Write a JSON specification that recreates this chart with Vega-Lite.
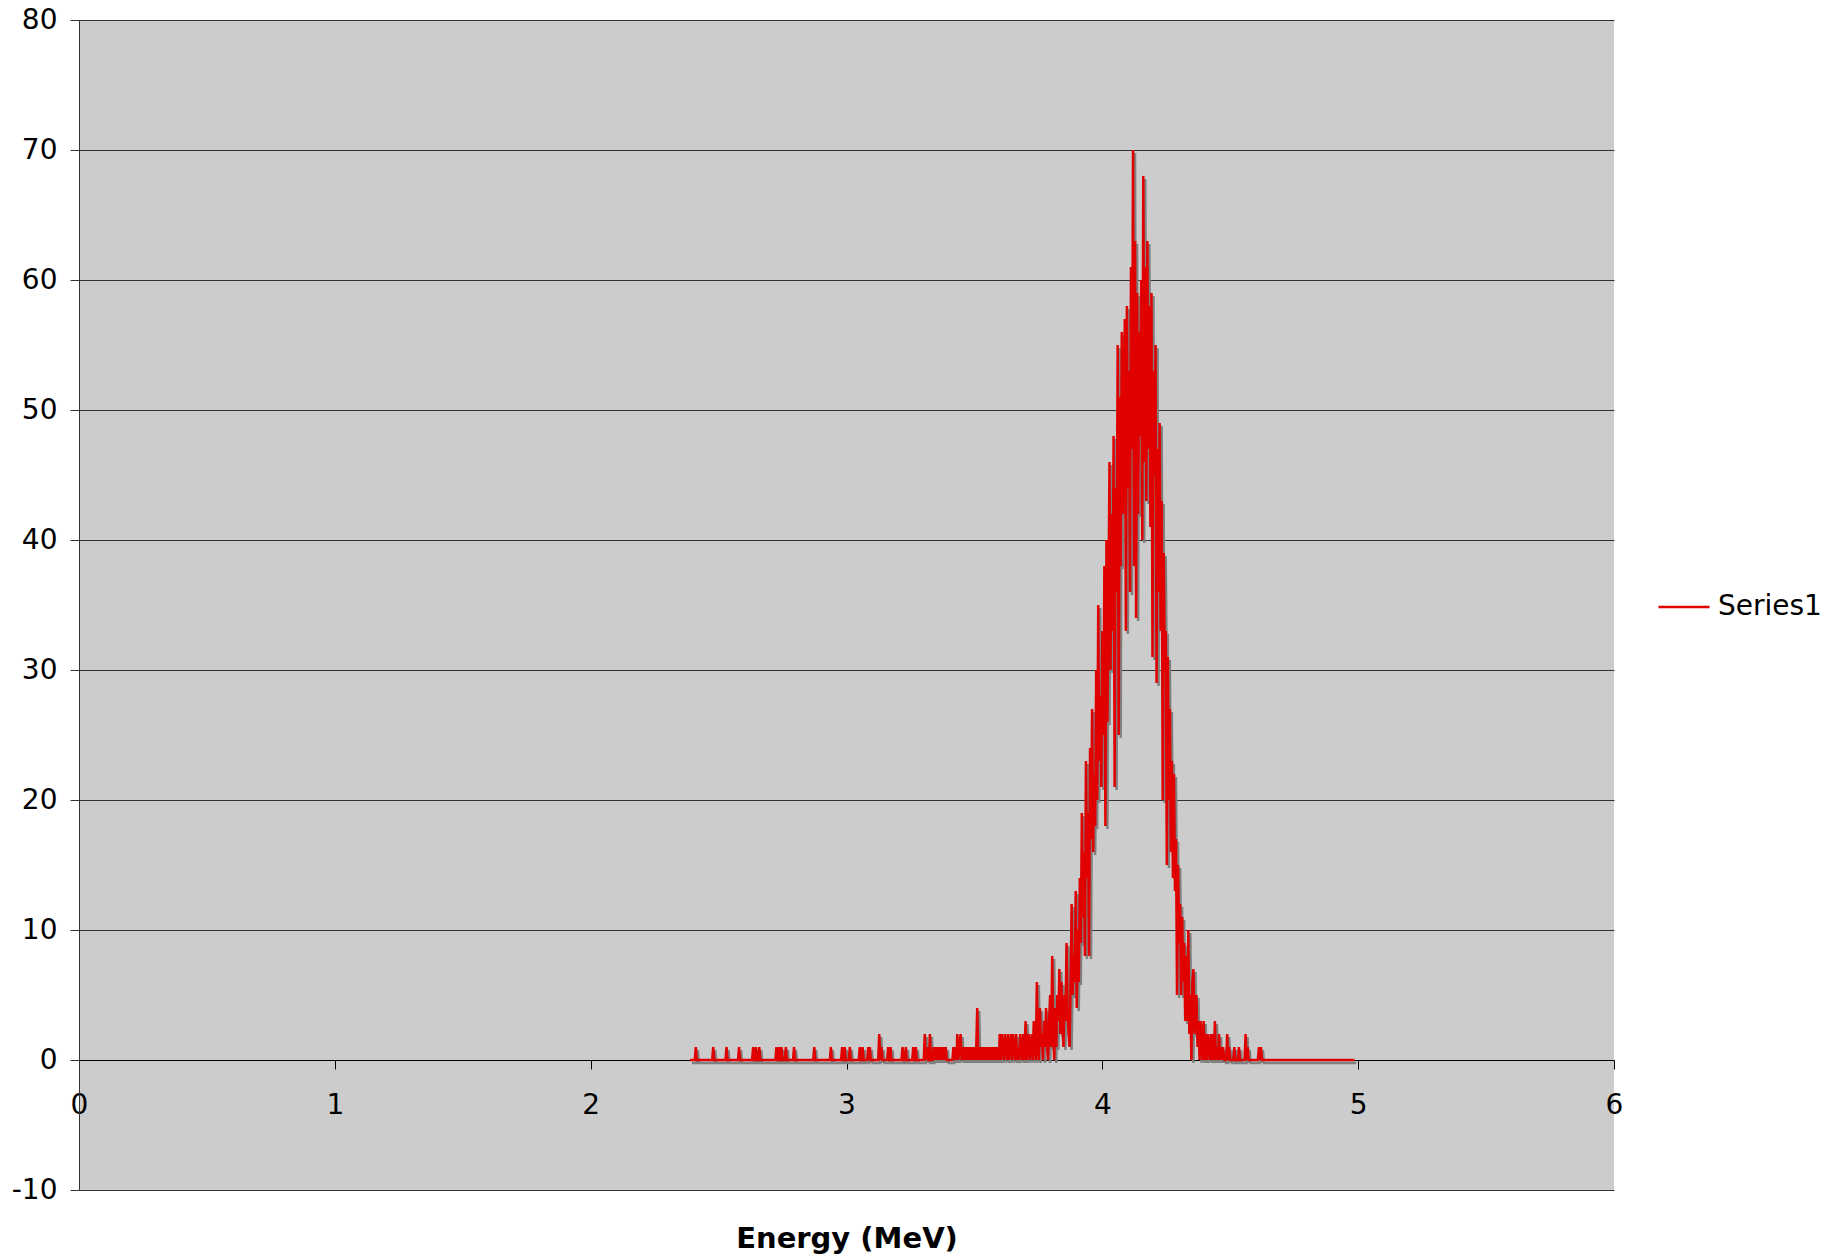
{
"$schema": "https://vega.github.io/schema/vega-lite/v6.json",
"width": 1535, "height": 1170,
"autosize": {"type": "none"},
"padding": {"left": 79, "top": 20, "right": 213, "bottom": 66},
"background": "white",
"config": {"view": {"fill": "#cccccc", "stroke": null}, "font": "DejaVu Sans"},
"data": {"values": [
{"e":2.388,"c":0},{"e":2.407,"c":0},{"e":2.411,"c":1},{"e":2.415,"c":0},{"e":2.475,"c":0},{"e":2.479,"c":1},{"e":2.483,"c":0},{"e":2.527,"c":0},{"e":2.531,"c":1},{"e":2.535,"c":0},{"e":2.576,"c":0},{"e":2.580,"c":1},{"e":2.584,"c":0},{"e":2.631,"c":0},{"e":2.635,"c":1},{"e":2.639,"c":0},{"e":2.642,"c":0},{"e":2.646,"c":1},{"e":2.650,"c":0},{"e":2.655,"c":0},{"e":2.659,"c":1},{"e":2.663,"c":0},{"e":2.722,"c":0},{"e":2.726,"c":1},{"e":2.730,"c":0},{"e":2.733,"c":0},{"e":2.737,"c":1},{"e":2.741,"c":0},{"e":2.742,"c":0},{"e":2.746,"c":1},{"e":2.750,"c":0},{"e":2.759,"c":0},{"e":2.763,"c":1},{"e":2.767,"c":0},{"e":2.791,"c":0},{"e":2.795,"c":1},{"e":2.799,"c":0},{"e":2.870,"c":0},{"e":2.874,"c":1},{"e":2.878,"c":0},{"e":2.935,"c":0},{"e":2.939,"c":1},{"e":2.943,"c":0},{"e":2.979,"c":0},{"e":2.983,"c":1},{"e":2.987,"c":0},{"e":2.989,"c":0},{"e":2.993,"c":1},{"e":2.997,"c":0},{"e":3.009,"c":0},{"e":3.013,"c":1},{"e":3.017,"c":0},{"e":3.048,"c":0},{"e":3.052,"c":1},{"e":3.056,"c":0},{"e":3.059,"c":0},{"e":3.063,"c":1},{"e":3.067,"c":0},{"e":3.081,"c":0},{"e":3.085,"c":1},{"e":3.088,"c":0},{"e":3.091,"c":1},{"e":3.095,"c":0},{"e":3.124,"c":0},{"e":3.128,"c":2},{"e":3.132,"c":0},{"e":3.137,"c":1},{"e":3.141,"c":0},{"e":3.159,"c":0},{"e":3.163,"c":1},{"e":3.167,"c":0},{"e":3.168,"c":0},{"e":3.172,"c":1},{"e":3.176,"c":0},{"e":3.215,"c":0},{"e":3.219,"c":1},{"e":3.223,"c":0},{"e":3.228,"c":0},{"e":3.232,"c":1},{"e":3.236,"c":0},{"e":3.257,"c":0},{"e":3.261,"c":1},{"e":3.265,"c":0},{"e":3.267,"c":0},{"e":3.271,"c":1},{"e":3.275,"c":0},{"e":3.302,"c":0},{"e":3.306,"c":2},{"e":3.310,"c":0},{"e":3.315,"c":1},{"e":3.319,"c":0},{"e":3.322,"c":0},{"e":3.326,"c":2},{"e":3.330,"c":0},{"e":3.336,"c":0},{"e":3.340,"c":1},{"e":3.344,"c":0},{"e":3.348,"c":1},{"e":3.352,"c":0},{"e":3.356,"c":1},{"e":3.360,"c":0},{"e":3.364,"c":1},{"e":3.368,"c":0},{"e":3.372,"c":1},{"e":3.376,"c":0},{"e":3.380,"c":1},{"e":3.384,"c":0},{"e":3.388,"c":1},{"e":3.392,"c":0},{"e":3.414,"c":0},{"e":3.418,"c":1},{"e":3.422,"c":0},{"e":3.426,"c":1},{"e":3.430,"c":0},{"e":3.433,"c":2},{"e":3.437,"c":0},{"e":3.441,"c":1},{"e":3.446,"c":2},{"e":3.450,"c":0},{"e":3.454,"c":1},{"e":3.458,"c":0},{"e":3.462,"c":1},{"e":3.466,"c":0},{"e":3.470,"c":1},{"e":3.474,"c":0},{"e":3.478,"c":1},{"e":3.482,"c":0},{"e":3.486,"c":1},{"e":3.490,"c":0},{"e":3.494,"c":1},{"e":3.498,"c":0},{"e":3.502,"c":1},{"e":3.506,"c":0},{"e":3.511,"c":4},{"e":3.515,"c":0},{"e":3.519,"c":1},{"e":3.523,"c":0},{"e":3.527,"c":1},{"e":3.531,"c":0},{"e":3.535,"c":1},{"e":3.539,"c":0},{"e":3.543,"c":1},{"e":3.547,"c":0},{"e":3.551,"c":1},{"e":3.555,"c":0},{"e":3.559,"c":1},{"e":3.563,"c":0},{"e":3.567,"c":1},{"e":3.571,"c":0},{"e":3.575,"c":1},{"e":3.579,"c":0},{"e":3.583,"c":1},{"e":3.587,"c":0},{"e":3.591,"c":1},{"e":3.595,"c":0},{"e":3.599,"c":2},{"e":3.603,"c":0},{"e":3.607,"c":2},{"e":3.611,"c":1},{"e":3.615,"c":0},{"e":3.619,"c":2},{"e":3.623,"c":1},{"e":3.627,"c":0},{"e":3.631,"c":2},{"e":3.635,"c":0},{"e":3.639,"c":1},{"e":3.643,"c":2},{"e":3.647,"c":0},{"e":3.651,"c":2},{"e":3.655,"c":1},{"e":3.659,"c":0},{"e":3.663,"c":2},{"e":3.667,"c":0},{"e":3.671,"c":1},{"e":3.675,"c":0},{"e":3.679,"c":2},{"e":3.683,"c":1},{"e":3.687,"c":0},{"e":3.691,"c":2},{"e":3.695,"c":0},
{"e":3.700,"c":3},{"e":3.704,"c":0},{"e":3.708,"c":1},{"e":3.712,"c":2},{"e":3.716,"c":0},{"e":3.720,"c":1},{"e":3.724,"c":2},{"e":3.728,"c":0},{"e":3.732,"c":3},{"e":3.736,"c":1},{"e":3.740,"c":0},{"e":3.744,"c":6},{"e":3.748,"c":1},{"e":3.752,"c":0},{"e":3.756,"c":4},{"e":3.760,"c":1},{"e":3.764,"c":2},{"e":3.768,"c":0},{"e":3.772,"c":3},{"e":3.776,"c":1},{"e":3.780,"c":4},{"e":3.784,"c":1},{"e":3.788,"c":0},{"e":3.792,"c":3},{"e":3.796,"c":5},{"e":3.800,"c":1},{"e":3.804,"c":8},{"e":3.808,"c":2},{"e":3.812,"c":0},{"e":3.816,"c":4},{"e":3.820,"c":1},{"e":3.824,"c":5},{"e":3.828,"c":3},{"e":3.832,"c":7},{"e":3.836,"c":2},{"e":3.840,"c":6},{"e":3.844,"c":3},{"e":3.848,"c":1},{"e":3.852,"c":5},{"e":3.856,"c":3},{"e":3.860,"c":9},{"e":3.864,"c":4},{"e":3.868,"c":2},{"e":3.872,"c":1},{"e":3.876,"c":6},{"e":3.880,"c":12},{"e":3.884,"c":5},{"e":3.888,"c":8},{"e":3.892,"c":6},{"e":3.896,"c":13},{"e":3.900,"c":4},{"e":3.904,"c":10},{"e":3.908,"c":6},{"e":3.912,"c":14},{"e":3.916,"c":9},{"e":3.920,"c":19},{"e":3.924,"c":11},{"e":3.928,"c":16},{"e":3.932,"c":8},{"e":3.936,"c":23},{"e":3.940,"c":14},{"e":3.944,"c":19},{"e":3.948,"c":8},{"e":3.952,"c":24},{"e":3.956,"c":17},{"e":3.960,"c":27},{"e":3.964,"c":16},{"e":3.968,"c":22},{"e":3.972,"c":18},{"e":3.976,"c":30},{"e":3.980,"c":20},{"e":3.984,"c":35},{"e":3.988,"c":23},{"e":3.992,"c":28},{"e":3.996,"c":21},{"e":4.000,"c":33},{"e":4.004,"c":25},{"e":4.008,"c":38},{"e":4.012,"c":18},{"e":4.016,"c":40},{"e":4.020,"c":26},{"e":4.024,"c":36},{"e":4.028,"c":46},{"e":4.032,"c":30},{"e":4.036,"c":42},{"e":4.040,"c":33},{"e":4.044,"c":48},{"e":4.048,"c":21},{"e":4.052,"c":44},{"e":4.056,"c":36},{"e":4.060,"c":55},{"e":4.064,"c":25},{"e":4.068,"c":51},{"e":4.072,"c":38},{"e":4.076,"c":56},{"e":4.080,"c":42},{"e":4.084,"c":52},{"e":4.088,"c":57},{"e":4.092,"c":33},{"e":4.096,"c":58},{"e":4.100,"c":44},{"e":4.104,"c":53},{"e":4.108,"c":36},{"e":4.112,"c":61},{"e":4.116,"c":47},{"e":4.120,"c":70},{"e":4.124,"c":38},{"e":4.128,"c":63},{"e":4.132,"c":34},{"e":4.136,"c":59},{"e":4.140,"c":42},{"e":4.144,"c":56},{"e":4.148,"c":48},{"e":4.152,"c":60},{"e":4.156,"c":40},{"e":4.160,"c":68},{"e":4.164,"c":46},{"e":4.168,"c":61},{"e":4.172,"c":43},{"e":4.176,"c":63},{"e":4.180,"c":47},{"e":4.184,"c":58},{"e":4.188,"c":41},{"e":4.192,"c":59},{"e":4.196,"c":31},{"e":4.200,"c":53},{"e":4.204,"c":45},{"e":4.208,"c":55},{"e":4.212,"c":29},{"e":4.216,"c":47},{"e":4.220,"c":36},{"e":4.224,"c":49},{"e":4.228,"c":33},{"e":4.232,"c":43},{"e":4.236,"c":20},{"e":4.240,"c":39},{"e":4.244,"c":30},{"e":4.248,"c":33},{"e":4.252,"c":15},{"e":4.256,"c":31},{"e":4.260,"c":20},{"e":4.264,"c":27},{"e":4.268,"c":16},{"e":4.272,"c":23},{"e":4.276,"c":14},{"e":4.280,"c":22},{"e":4.284,"c":13},{"e":4.288,"c":17},{"e":4.292,"c":5},{"e":4.296,"c":15},{"e":4.300,"c":9},{"e":4.304,"c":12},{"e":4.308,"c":5},{"e":4.312,"c":11},{"e":4.316,"c":6},{"e":4.320,"c":9},{"e":4.324,"c":3},{"e":4.328,"c":8},{"e":4.332,"c":3},{"e":4.336,"c":10},{"e":4.340,"c":2},{"e":4.344,"c":5},{"e":4.348,"c":0},{"e":4.352,"c":6},{"e":4.356,"c":7},{"e":4.360,"c":2},{"e":4.364,"c":4},{"e":4.368,"c":5},{"e":4.372,"c":1},{"e":4.376,"c":3},{"e":4.380,"c":0},{"e":4.384,"c":3},{"e":4.388,"c":1},{"e":4.392,"c":0},{"e":4.396,"c":3},{"e":4.400,"c":0},
{"e":4.404,"c":2},{"e":4.408,"c":0},{"e":4.412,"c":2},{"e":4.416,"c":1},{"e":4.420,"c":0},{"e":4.424,"c":2},{"e":4.428,"c":0},{"e":4.432,"c":2},{"e":4.436,"c":0},{"e":4.440,"c":3},{"e":4.444,"c":0},{"e":4.448,"c":1},{"e":4.452,"c":0},{"e":4.456,"c":2},{"e":4.460,"c":0},{"e":4.464,"c":1},{"e":4.468,"c":0},{"e":4.472,"c":1},{"e":4.476,"c":0},{"e":4.484,"c":0},{"e":4.488,"c":2},{"e":4.492,"c":0},{"e":4.496,"c":1},{"e":4.500,"c":0},{"e":4.512,"c":0},{"e":4.516,"c":1},{"e":4.520,"c":0},{"e":4.530,"c":0},{"e":4.534,"c":1},{"e":4.538,"c":0},{"e":4.556,"c":0},{"e":4.560,"c":2},{"e":4.564,"c":0},{"e":4.568,"c":1},{"e":4.572,"c":0},{"e":4.608,"c":0},{"e":4.612,"c":1},{"e":4.616,"c":0},{"e":4.620,"c":1},{"e":4.624,"c":0},{"e":4.985,"c":0}
]},
"layer": [
{"mark": {"type": "line", "color": "#808080", "strokeWidth": 2.5, "xOffset": 2, "yOffset": 3},
 "encoding": {
  "x": {"field": "e", "type": "quantitative", "scale": {"domain": [0, 6], "nice": false},
   "axis": {"title": "Energy (MeV)", "values": [0,1,2,3,4,5,6], "labelExpr": "'' + datum.value", "offset": -130, "grid": false,
    "domainColor": "#000000", "domainWidth": 1, "tickColor": "#000000", "tickWidth": 1, "tickSize": 9,
    "labelFontSize": 28, "labelPadding": 22, "labelColor": "#000000", "labelFlush": false, "labelOverlap": false,
    "titleFontSize": 29, "titleFontWeight": "bold", "titleColor": "#000000", "titleY": 187, "titleBaseline": "alphabetic"}},
  "y": {"field": "c", "type": "quantitative", "scale": {"domain": [-10, 80], "nice": false},
   "axis": {"title": null, "values": [-10,0,10,20,30,40,50,60,70,80], "labelExpr": "'' + datum.value", "grid": true, "gridColor": "#333333", "gridWidth": 1, "gridOpacity": 1,
    "domainColor": "#333333", "tickColor": "#333333", "tickSize": 9, "labelFontSize": 28, "labelPadding": 13, "labelColor": "#000000"}}
 }},
{"mark": {"type": "line", "strokeWidth": 2.5},
 "encoding": {
  "x": {"field": "e", "type": "quantitative"},
  "y": {"field": "c", "type": "quantitative"},
  "color": {"datum": "Series1", "scale": {"range": ["#e00000"]},
   "legend": {"title": null, "orient": "none", "legendX": 1578, "legendY": 560, "symbolType": "stroke", "symbolSize": 2601,
    "symbolStrokeWidth": 2.5, "labelFontSize": 28, "labelOffset": 7, "padding": 0, "labelColor": "#000000"}}
 }}
]
}
